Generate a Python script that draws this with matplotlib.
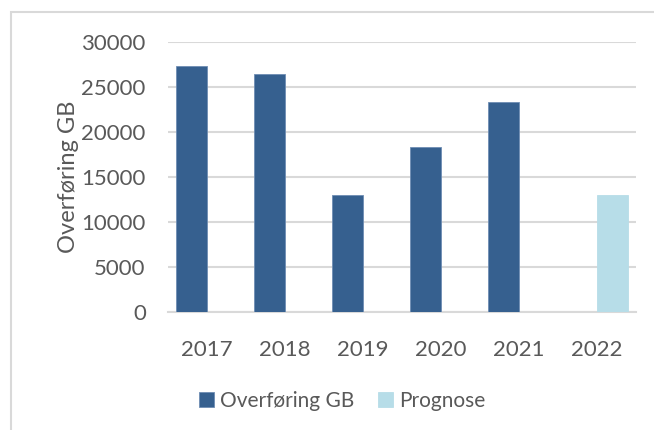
import numpy as np
import matplotlib.pyplot as plt
from matplotlib.patches import Rectangle

years = ['2017', '2018', '2019', '2020', '2021', '2022']
overforing = [27300, 26400, 13050, 18300, 23300, np.nan]
prognose = [np.nan, np.nan, np.nan, np.nan, np.nan, 13000]
yticks = [0, 5000, 10000, 15000, 20000, 25000, 30000]

text_col = '#595959'
plt.rcParams['font.family'] = ['Lato', 'DejaVu Sans']

fig = plt.figure(figsize=(6.54, 4.30), dpi=100)
# chart frame (light gray border, cut off at right/bottom)
fig.patches.append(Rectangle((11 / 654, -0.1), 1.2, 1 - 12 / 430 + 0.1,
                             transform=fig.transFigure, fill=False,
                             edgecolor='#D9D9D9', linewidth=1.5))

ax = fig.add_axes([168 / 654, 1 - 312 / 430, (636 - 168) / 654, (312 - 42) / 430])

x = np.arange(len(years))
w = 0.4
ax.bar(x - w / 2, overforing, w, color='#36608F', edgecolor='#6E8DB3',
       linewidth=0.6, label='Overføring GB', zorder=3)
ax.bar(x + w / 2, prognose, w, color='#B7DDE8', edgecolor='#B7DDE8',
       linewidth=0.6, label='Prognose', zorder=3)

ax.set_xlim(-0.5, len(years) - 0.5)
ax.set_ylim(0, 30000)
ax.set_yticks(yticks)
ax.set_yticklabels([str(v) for v in yticks])
ax.set_xticks(x)
ax.set_xticklabels(years)
ax.yaxis.grid(True, color='#D9D9D9', linewidth=1.5, zorder=0)
ax.set_axisbelow(True)
for s in ['top', 'right', 'left']:
    ax.spines[s].set_visible(False)
ax.spines['bottom'].set_color('#D9D9D9')
ax.spines['bottom'].set_linewidth(1.5)
ax.tick_params(axis='both', length=0, labelsize=16, colors=text_col)
ax.tick_params(axis='x', pad=20)
ax.tick_params(axis='y', pad=16)
ax.set_ylabel('Overføring GB', fontsize=17, color=text_col, labelpad=2)

ax.legend(loc='center', bbox_to_anchor=(0.372, -0.33), ncol=2, frameon=False,
          fontsize=15, labelcolor=text_col, handlelength=0.75, handleheight=0.75,
          handletextpad=0.3, columnspacing=1.1)

fig.savefig('out.png', dpi=100)
